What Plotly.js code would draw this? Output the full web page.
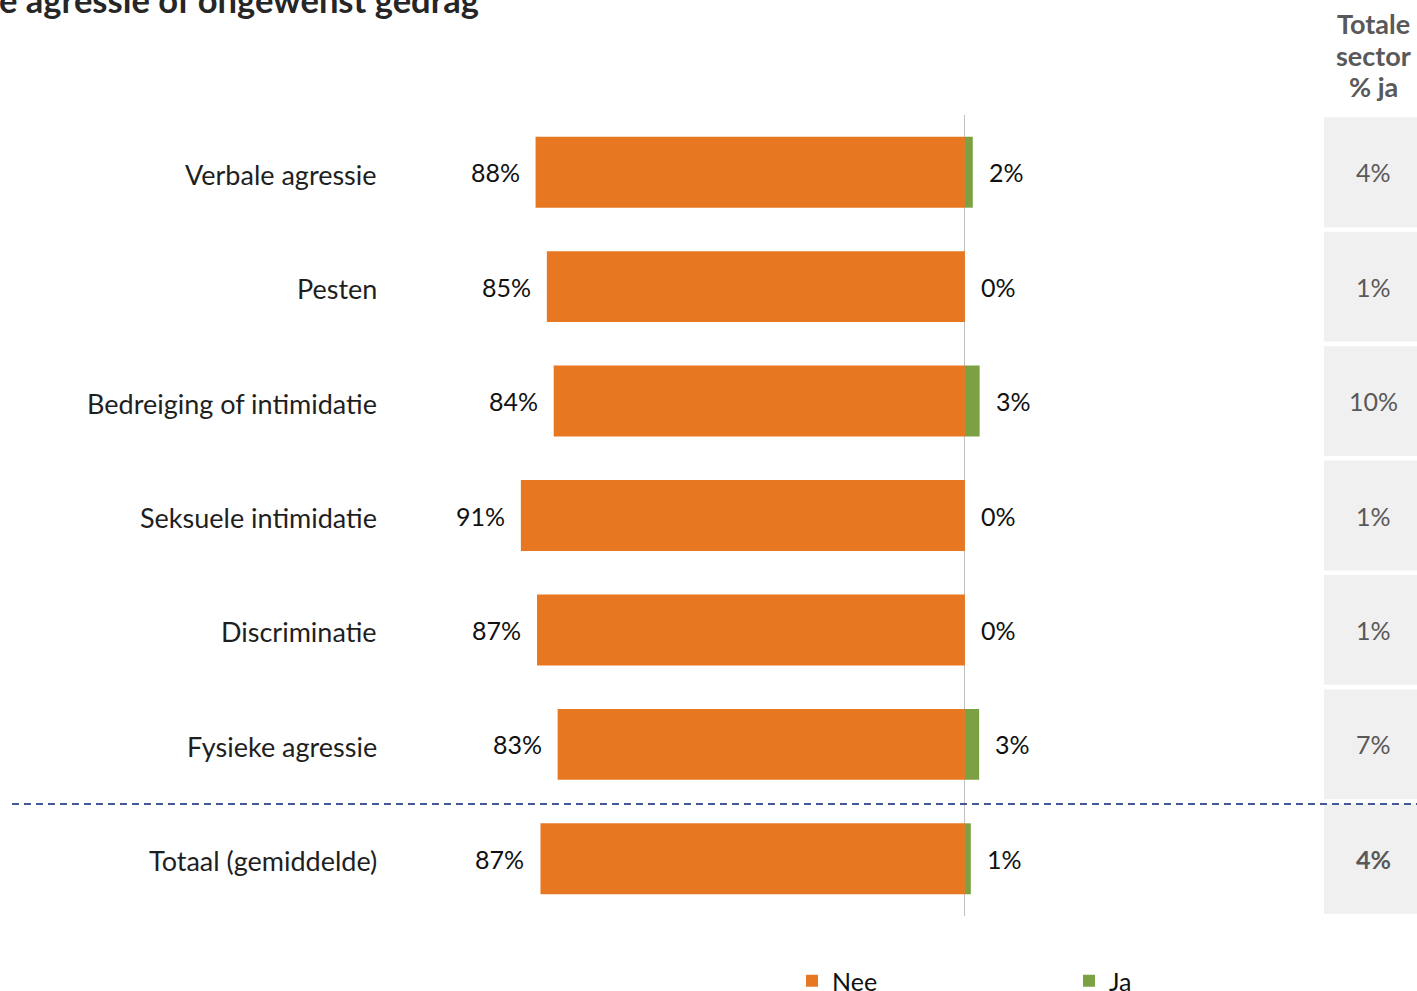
<!DOCTYPE html>
<html>
<head>
<meta charset="utf-8">
<script src="https://cdn.plot.ly/plotly-3.0.1.min.js"></script>
<style>html,body{margin:0;padding:0;background:#fff;overflow:hidden;}#chart{width:1417px;height:991px;}</style>
</head>
<body>
<div id="chart"></div>
<script>
var categories = ["Verbale agressie", "Pesten", "Bedreiging of intimidatie", "Seksuele intimidatie", "Discriminatie", "Fysieke agressie", "Totaal (gemiddelde)"];
var neeValues = [87.6, 85.3, 83.9, 90.6, 87.3, 83.1, 86.6];
var jaValues = [1.6, 0.0, 3.0, 0.0, 0.0, 2.9, 1.2];
var neeLabels = ["88%", "85%", "84%", "91%", "87%", "83%", "87%"];
var jaLabels = ["2%", "0%", "3%", "0%", "0%", "3%", "1%"];
var sectorLabels = ["4%", "1%", "10%", "1%", "1%", "7%", "4%"];
var titleText = "e agressie of ongewenst gedrag";
var sectorHeaderLines = ["Totale", "sector", "% ja"];

var W = 1417, H = 991;
var TOP = 115, BOTTOM = 916, PH = BOTTOM - TOP;
var FONT = "Lato, 'Open Sans', sans-serif";
var ORANGE = "#e87722", GREEN = "#7ba142";

function py(pix){ return (BOTTOM - pix) / PH; }

var traces = [
  {type: "bar", orientation: "h", name: "Nee", y: categories, x: neeValues.map(function(v){return -v;}),
   marker: {color: ORANGE}, hoverinfo: "skip"},
  {type: "bar", orientation: "h", name: "Ja", y: categories, x: jaValues,
   marker: {color: GREEN}, hoverinfo: "skip"}
];

var annotations = [];
var shapes = [];
categories.forEach(function(c, i){
  annotations.push({x: 390 / W, y: c, xref: "paper", yref: "y", text: c, showarrow: false,
    xanchor: "right", xshift: -11, yshift: -2, font: {family: FONT, size: 27, color: "#1f1f1f"}});
  annotations.push({x: -neeValues[i], y: c, xref: "x", yref: "y", text: neeLabels[i], showarrow: false,
    xanchor: "right", xshift: -14, yshift: 0, font: {family: FONT, size: 25, color: "#111"}});
  annotations.push({x: jaValues[i], y: c, xref: "x", yref: "y", text: jaLabels[i], showarrow: false,
    xanchor: "left", xshift: 14, yshift: 0, font: {family: FONT, size: 25, color: "#111"}});
  annotations.push({x: 1373 / W, y: c, xref: "paper", yref: "y", text: (i === categories.length - 1 ? "<b>" + sectorLabels[i] + "</b>" : sectorLabels[i]),
    showarrow: false, xanchor: "center", font: {family: FONT, size: 25, color: "#595959"}});
  shapes.push({type: "rect", xref: "paper", yref: "y", x0: 1324 / W, x1: 1, y0: i - 0.48, y1: i + 0.48,
    fillcolor: "#f0f0f0", line: {width: 0}, layer: "below"});
});
var headerY = [24, 55, 87];
sectorHeaderLines.forEach(function(t, k){
  annotations.push({x: 1373 / W, y: py(headerY[k]), xref: "paper", yref: "paper", text: "<b>" + t + "</b>",
    showarrow: false, xanchor: "center", yanchor: "middle", font: {family: FONT, size: 27, color: "#595959"}});
});
annotations.push({x: 0, y: py(22), xref: "paper", yref: "paper", text: "<b>" + titleText + "</b>",
  showarrow: false, xanchor: "left", yanchor: "bottom", xshift: -3, font: {family: FONT, size: 34.5, color: "#262626"}});
shapes.push({type: "line", xref: "paper", yref: "paper", x0: 12 / W, x1: 1, y0: py(804), y1: py(804),
  line: {color: "#44599a", width: 2, dash: "7px,5px"}});

var layout = {
  width: W, height: H,
  margin: {l: 0, r: 0, t: TOP, b: H - BOTTOM, pad: 0, autoexpand: false},
  paper_bgcolor: "#fff", plot_bgcolor: "rgba(0,0,0,0)",
  barmode: "relative", bargap: 0.38,
  font: {family: FONT, color: "#1a1a1a"},
  xaxis: {domain: [390 / W, 1310 / W], range: [-117.3, 70.4], showgrid: false, showticklabels: false, ticks: "",
    zeroline: true, zerolinecolor: "#bfbfbf", zerolinewidth: 1, fixedrange: true, automargin: false},
  yaxis: {type: "category", autorange: "reversed", showgrid: false, zeroline: false, showline: false, ticks: "",
    showticklabels: false, automargin: false},
  showlegend: true,
  legend: {orientation: "h", x: 792 / W, xanchor: "left", y: py(958), yanchor: "top", traceorder: "normal",
    font: {family: FONT, size: 25, color: "#111"}, entrywidth: 232, entrywidthmode: "pixels", itemclick: false},
  annotations: annotations,
  shapes: shapes
};

Plotly.newPlot("chart", traces, layout, {displayModeBar: false, staticPlot: true});
</script>
</body>
</html>
